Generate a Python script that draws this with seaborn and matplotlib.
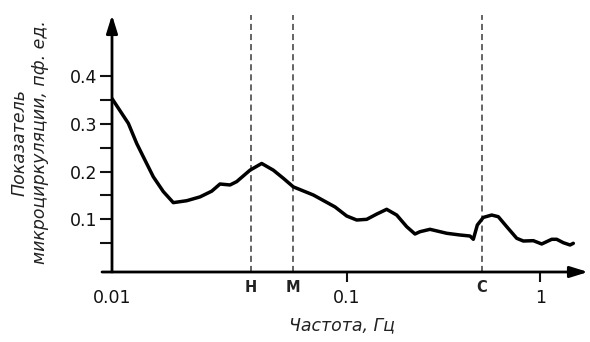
import numpy as np
import pandas as pd
import matplotlib
matplotlib.use("Agg")
import matplotlib.pyplot as plt
from matplotlib.ticker import FixedLocator, NullFormatter
import seaborn as sns

# ---- data ----
freq = [0.0100, 0.01174, 0.01274, 0.01382, 0.01500, 0.01655, 0.01825, 0.02081,
        0.02371, 0.02660, 0.02885, 0.03183, 0.03398, 0.03873, 0.04343, 0.04868,
        0.05369, 0.05923, 0.07208, 0.08917, 0.1000, 0.1126, 0.1269, 0.1429,
        0.1609, 0.1813, 0.2042, 0.2254, 0.2392, 0.2694, 0.3287, 0.3850,
        0.4337, 0.4511, 0.4732, 0.5082, 0.5615, 0.6074, 0.6713, 0.7563,
        0.8179, 0.9211, 1.018, 1.147, 1.217, 1.316, 1.426, 1.483]
value = [0.353, 0.301, 0.259, 0.224, 0.189, 0.158, 0.135, 0.139,
         0.147, 0.159, 0.174, 0.172, 0.179, 0.203, 0.217, 0.203,
         0.186, 0.168, 0.151, 0.126, 0.107, 0.0986, 0.100, 0.111,
         0.121, 0.109, 0.0846, 0.0693, 0.0741, 0.0791, 0.0708, 0.0672,
         0.0651, 0.0582, 0.0881, 0.104, 0.109, 0.1055, 0.0846, 0.0603,
         0.0546, 0.0553, 0.0484, 0.0582, 0.0582, 0.0511, 0.0463, 0.0498]

band_freq = [0.039, 0.0592, 0.499]
band_labels = ["Н", "М", "С"]

x_ticks = [0.01, 0.1, 1]
x_tick_labels = ["0.01", "0.1", "1"]
y_ticks = [0.1, 0.2, 0.3, 0.4]
y_tick_labels = ["0.1", "0.2", "0.3", "0.4"]
y_minor = [0.05, 0.15, 0.25, 0.35]

y_label = "Показатель\nмикроциркуляции, пф. ед."
x_label = "Частота, Гц"

df = pd.DataFrame({"freq": freq, "value": value})

sns.set_theme(style="white")
plt.rcParams["font.family"] = ["DejaVu Sans"]

fig = plt.figure(figsize=(5.9, 3.42), dpi=100)
W, H = 590, 342
ax_left, ax_right, ax_top, ax_bottom = 112, 588, 15, 272
ax = fig.add_axes([ax_left / W, (H - ax_bottom) / H,
                   (ax_right - ax_left) / W, (ax_bottom - ax_top) / H])

# piecewise log scale: the reference's first decade is drawn wider
K = 234.7 / 193.5


def fwd(x):
    x = np.clip(np.asarray(x, dtype=float), 1e-12, None)
    lg = np.log10(x)
    return np.where(lg < -1, -1 + (lg + 1) * K, lg)


def inv(y):
    y = np.asarray(y, dtype=float)
    return np.where(y < -1, 10 ** (-1 + (y + 1) / K), 10 ** y)


ax.set_xscale("function", functions=(fwd, inv))
ax.set_xlim(0.01, 1.766)
ax.set_ylim(-0.0103, 0.528)

sns.lineplot(data=df, x="freq", y="value", ax=ax, color="black",
             linewidth=2.5, estimator=None, sort=False)
for ln in ax.get_lines():
    ln.set_solid_joinstyle("round")
    ln.set_solid_capstyle("round")

for f in band_freq:
    ax.axvline(f, ymin=0.0, ymax=1.0, color="#3a3a3a", lw=1.1,
               ls=(0, (4, 2.6)), zorder=1)
for f, lab in zip(band_freq, band_labels):
    ax.text(f, -0.06, lab, transform=ax.get_xaxis_transform(),
            ha="center", va="center", fontsize=10.5, fontweight="bold",
            color="#222222")

for s in ax.spines.values():
    s.set_visible(False)

# axes with arrows
arrow_kw = dict(arrowstyle="-|>,head_length=0.9,head_width=0.28",
                lw=2.0, color="black", shrinkA=0, shrinkB=0,
                mutation_scale=12)
ax.annotate("", xy=(0, 1), xytext=(0, 0), xycoords="axes fraction",
            arrowprops=arrow_kw, annotation_clip=False)
ax.annotate("", xy=(1, 0), xytext=(-10 / 476, 0), xycoords="axes fraction",
            arrowprops=arrow_kw, annotation_clip=False)

ax.xaxis.set_major_locator(FixedLocator(x_ticks))
ax.set_xticklabels(x_tick_labels)
ax.xaxis.set_minor_locator(FixedLocator([]))
ax.tick_params(axis="x", which="major", direction="out", length=7.5,
               width=1.5, pad=5, labelsize=12.5, colors="#111111",
               bottom=True)
ax.xaxis.get_major_ticks()[0].tick1line.set_visible(False)

ax.yaxis.set_major_locator(FixedLocator(y_ticks))
ax.set_yticklabels(y_tick_labels)
ax.yaxis.set_minor_locator(FixedLocator(y_minor))
ax.yaxis.set_minor_formatter(NullFormatter())
ax.tick_params(axis="y", which="both", direction="out", length=8.5,
               width=1.5, pad=2, labelsize=12.5, colors="#111111", left=True)

ax.set_xlabel("")
ax.set_ylabel("")
fig.text(30 / W, 1 - 142 / H, y_label, rotation=90, ha="center",
         va="center", multialignment="center", fontsize=12.5,
         style="italic", color="#222222", linespacing=1.15)
fig.text(342 / W, 1 - 325 / H, x_label, ha="center", va="center",
         fontsize=12.5, style="italic", color="#222222")

fig.savefig("out.png", dpi=100, facecolor="white")
